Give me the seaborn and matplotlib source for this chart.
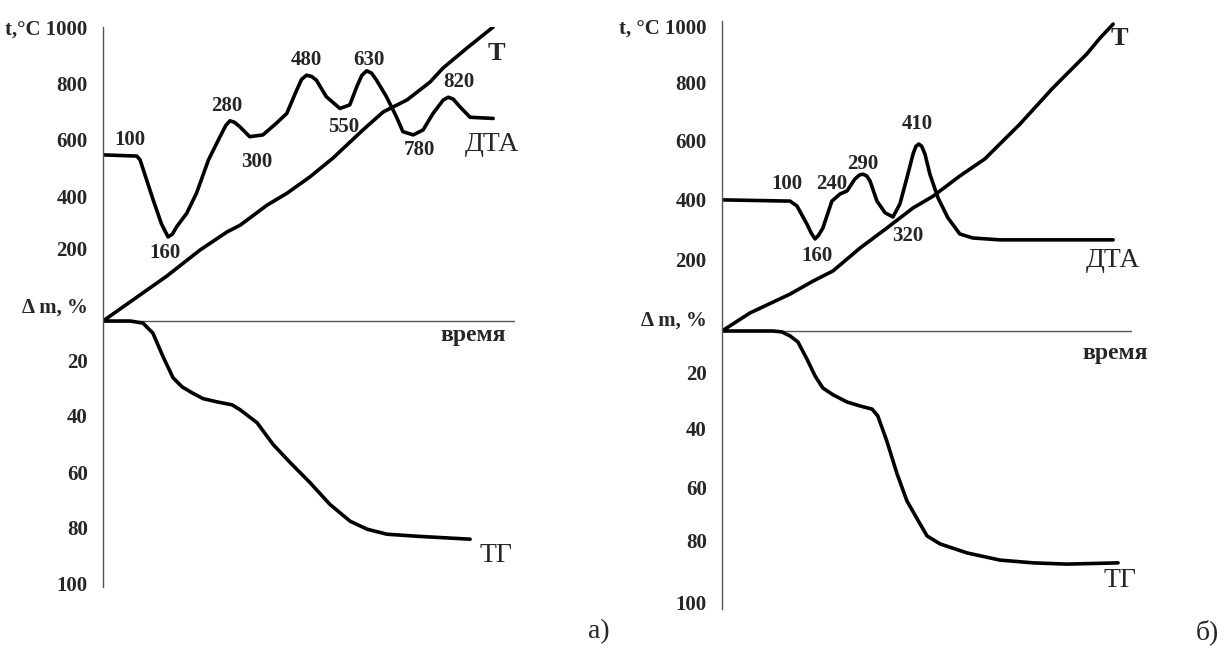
import matplotlib
matplotlib.use('Agg')
import matplotlib.pyplot as plt
import seaborn as sns

sns.set_theme(style='white')
plt.rcParams['font.family'] = ['Liberation Serif', 'DejaVu Serif']

# === Data: panel а) ===
# time in arbitrary units (0..100 across the axis), temperature in °C, mass loss in %
a_t_time = [0, 15.5, 23.5, 30.1, 33.3, 39.8, 44.7, 50.2, 55.8, 63.1, 68.0, 73.8, 79.4, 82.5, 88.3, 94.7]
a_t_temp = [0, 153, 241, 303, 326, 394, 435, 490, 554, 650, 711, 752, 813, 860, 928, 1000]

a_dta_time = [0, 8.2, 9.0, 12.2, 14.2, 15.8, 16.8, 17.9, 20.3, 22.7, 25.6, 28.4, 29.8, 30.8, 31.9,
              33.2, 35.6, 38.8, 42.1, 44.6, 47.0, 48.2, 49.4, 50.6, 51.8, 54.2, 57.5, 59.9, 61.6,
              62.8, 64.0, 65.2, 66.4, 68.8, 71.2, 72.8, 75.3, 77.7, 80.1, 82.6, 83.8, 85.0,
              86.6, 89.1, 94.7]
a_dta_val = [565, 561, 548, 411, 330, 286, 295, 321, 366, 435, 548, 627, 665, 681, 676,
             661, 627, 633, 673, 706, 785, 822, 836, 832, 819, 763, 723, 735, 797,
             835, 851, 843, 819, 763, 695, 644, 633, 650, 706, 752, 761, 755,
             729, 693, 689]

a_tg_time = [0, 6.6, 9.7, 12.1, 14.6, 17.0, 19.2, 21.6, 24.3, 27.7, 31.3, 33.3, 37.4, 41.3,
             45.4, 50.2, 55.1, 60.0, 64.1, 68.9, 76.2, 89.1]
a_tg_mass = [0, 0, 0.7, 4.1, 12.2, 19.3, 22.4, 24.4, 26.4, 27.5, 28.5, 30.2, 34.6, 42.0,
             48.1, 54.9, 62.4, 68.1, 70.8, 72.5, 73.2, 74.2]

a_peak_labels = ['100', '160', '280', '300', '480', '630', '550', '780', '820']
a_peak_x = [6.6, 15.0, 30.1, 37.4, 49.3, 64.6, 58.3, 76.9, 86.4]
a_peak_y = [616, 231, 731, 541, 888, 888, 660, 582, 813]

# === Data: panel б) ===
b_t_time = [0, 6.8, 16.6, 22.2, 27.1, 33.7, 40.2, 46.6, 51.5, 58.0, 64.1, 72.7, 80.7, 89.0, 92.2, 95.4]
b_t_temp = [0, 58, 119, 161, 194, 268, 332, 397, 435, 500, 555, 668, 784, 894, 945, 990]

b_dta_time = [0, 16.6, 18.3, 20.7, 21.8, 22.7, 23.5, 24.6, 26.8, 28.8, 30.5, 32.4, 33.5, 34.4,
              35.3, 36.1, 37.8, 39.8, 41.7, 43.4, 45.1, 46.6, 47.3, 48.0, 48.7, 49.5, 50.7,
              52.7, 55.1, 58.0, 61.2, 67.8, 75.9, 95.4]
b_dta_val = [423, 419, 403, 345, 315, 297, 308, 332, 419, 442, 452, 490, 503, 506,
             500, 484, 419, 381, 368, 410, 494, 571, 596, 603, 596, 571, 506,
             429, 365, 313, 300, 294, 294, 294]

b_tg_time = [0, 12.4, 14.6, 16.6, 18.5, 20.7, 22.7, 24.6, 27.1, 30.5, 33.7, 36.6, 38.0, 40.2,
             42.7, 45.1, 47.6, 50.0, 53.2, 59.8, 67.8, 75.9, 84.1, 96.6]
b_tg_mass = [0, 0, 0.3, 1.6, 3.5, 9.0, 14.5, 18.4, 20.6, 22.9, 24.2, 25.2, 27.4, 35.5,
             46.1, 54.8, 60.6, 66.1, 68.7, 71.6, 73.9, 74.8, 75.2, 74.8]

b_peak_labels = ['100', '160', '240', '290', '320', '410']
b_peak_x = [15.9, 23.2, 26.8, 34.4, 45.4, 47.6]
b_peak_y = [474, 242, 474, 539, 306, 668]

# axis tick marks (°C above zero, mass % below zero) and their text labels
temp_ticks = [1000, 800, 600, 400, 200, 0]
mass_ticks = [20, 40, 60, 80]
axis_labels_a = ['t,°C 1000', '800', '600', '400', '200', '\u0394 m, %', '20', '40', '60', '80', '100']
axis_labels_b = ['t, °C 1000', '800', '600', '400', '200', '\u0394 m, %', '20', '40', '60', '80', '100']
label_pos_a = [1000, 809, 619, 425, 245, 54, -133, -320, -514, -701, -891]
label_pos_b = [984, 800, 613, 423, 232, 42, -135, -316, -506, -677, -877]

MASS_SCALE = 10  # 20 % on the mass scale takes the height of 200 °C


def draw_panel(fig, rect, ybottom, t_time, t_temp, dta_time, dta_val, tg_time, tg_mass,
               peak_labels, peak_x, peak_y, axis_labels, label_pos, names_pos):
    ax = fig.add_axes(rect)
    kw = dict(ax=ax, color='black', lw=2.6, sort=False,
              solid_joinstyle='round', solid_capstyle='round')
    sns.lineplot(x=t_time, y=t_temp, **kw)
    sns.lineplot(x=dta_time, y=dta_val, **kw)
    sns.lineplot(x=tg_time, y=[-m * MASS_SCALE for m in tg_mass], **kw)
    ax.axhline(0, color='#555555', lw=1.0, zorder=1)

    ax.set_xlim(0, 100)
    ax.set_ylim(ybottom, 1000)
    for side in ['top', 'right', 'bottom']:
        ax.spines[side].set_visible(False)
    ax.spines['left'].set_color('#555555')
    ax.spines['left'].set_linewidth(1.0)
    ax.set_xticks([])

    ax.set_yticks(label_pos)
    ax.set_yticklabels(axis_labels, fontsize=15, fontweight='bold')
    ax.tick_params(axis='y', which='major', length=0, pad=11)
    ax.set_yticks(temp_ticks + [-m * MASS_SCALE for m in mass_ticks], minor=True)
    ax.tick_params(axis='y', which='minor', length=4, width=1.0, color='#555555', direction='out')
    ax.set_xlabel('')
    ax.set_ylabel('')

    for lab, x, y in zip(peak_labels, peak_x, peak_y):
        ax.text(x, y, lab, fontsize=15, fontweight='bold', ha='center', va='center')

    (tx, ty), (dx, dy), (vx, vy), (gx, gy) = names_pos
    ax.text(tx, ty, 'T', fontsize=19, fontweight='bold', ha='center', va='center')
    ax.text(dx, dy, 'ДТА', fontsize=20, ha='center', va='center')
    ax.text(vx, vy, 'время', fontsize=17, fontweight='bold', ha='center', va='center')
    ax.text(gx, gy, 'ТГ', fontsize=20, ha='center', va='center')
    return ax


fig = plt.figure(figsize=(12.27, 6.53), dpi=100)

draw_panel(fig, [103 / 1227, 66 / 653, 412 / 1227, 560 / 653], -904.6,
           a_t_time, a_t_temp, a_dta_time, a_dta_val, a_tg_time, a_tg_mass,
           a_peak_labels, a_peak_x, a_peak_y, axis_labels_a, label_pos_a,
           [(95.6, 911), (94.4, 599), (89.8, -48), (95.4, -796)])

draw_panel(fig, [722 / 1227, 44 / 653, 410 / 1227, 588 / 653], -896.8,
           b_t_time, b_t_temp, b_dta_time, b_dta_val, b_tg_time, b_tg_mass,
           b_peak_labels, b_peak_x, b_peak_y, axis_labels_b, label_pos_b,
           [(96.8, 945), (95.4, 226), (95.9, -74), (97.1, -806)])

fig.text(599 / 1227, 1 - 632 / 653, 'а)', fontsize=20, ha='center', va='center')
fig.text(1207 / 1227, 1 - 632 / 653, 'б)', fontsize=20, ha='center', va='center')

fig.savefig('out.png', dpi=100, facecolor='white')
